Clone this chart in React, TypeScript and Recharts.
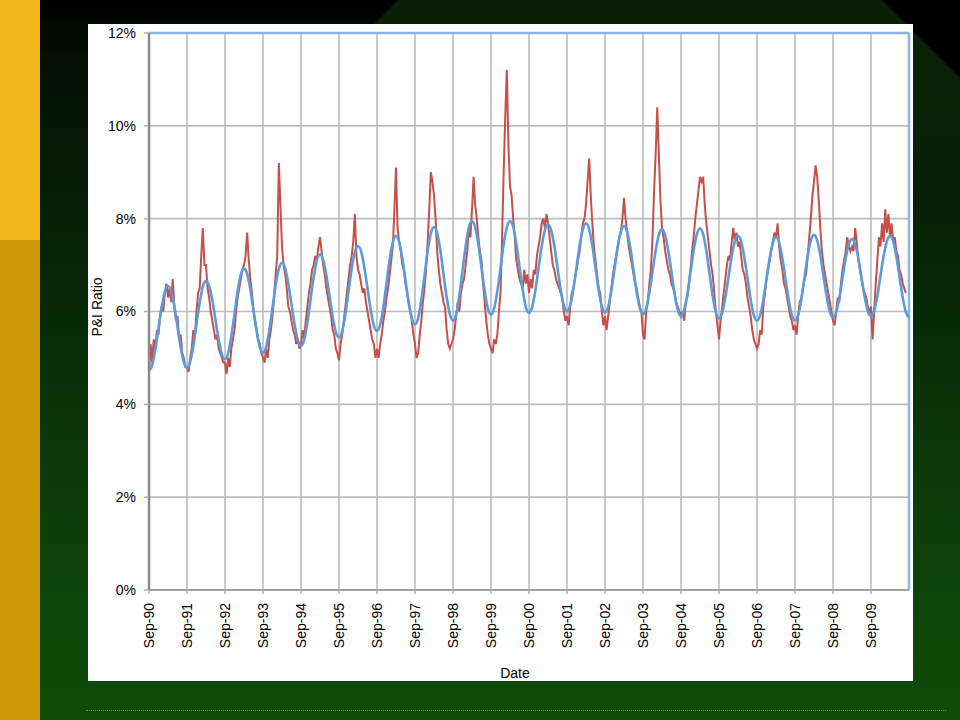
import React from 'react';
import { LineChart, Line, XAxis, YAxis, CartesianGrid, ReferenceLine } from 'recharts';

// Tick labels on the date axis (one per September, month index 0 = Sep-90)
const xTickLabels = [
  'Sep-90', 'Sep-91', 'Sep-92', 'Sep-93', 'Sep-94', 'Sep-95', 'Sep-96', 'Sep-97', 'Sep-98', 'Sep-99',
  'Sep-00', 'Sep-01', 'Sep-02', 'Sep-03', 'Sep-04', 'Sep-05', 'Sep-06', 'Sep-07', 'Sep-08', 'Sep-09',
];
const xTickMonths = [0, 12, 24, 36, 48, 60, 72, 84, 96, 108, 120, 132, 144, 156, 168, 180, 192, 204, 216, 228];
const yTicks = [0, 2, 4, 6, 8, 10, 12];

// Observed P&I ratio (%), read every half month starting Sep-90
const observedPI = [
  // Sep-90
  4.7, 5.3, 4.9, 5.4, 5.2, 5.6, 5.5, 5.9, 6.1, 6.0, 6.4, 6.6, 6.3, 6.5, 6.2, 6.7, 6.1, 5.8, 5.9, 5.4, 5.5, 5.1, 5.0, 4.8,
  // Sep-91
  4.8, 4.7, 5.0, 5.2, 5.6, 5.5, 6.0, 6.4, 6.5, 7.2, 7.8, 7.0, 7.0, 6.5, 6.3, 6.0, 5.8, 5.6, 5.4, 5.5, 5.2, 5.1, 5.0, 4.9,
  // Sep-92
  4.9, 4.65, 5.0, 4.8, 5.2, 5.4, 5.6, 6.0, 6.3, 6.5, 6.7, 6.9, 7.0, 7.2, 7.7, 7.1, 6.7, 6.4, 6.0, 5.8, 5.6, 5.4, 5.3, 5.1,
  // Sep-93
  5.0, 4.9, 5.2, 5.0, 5.4, 5.6, 5.9, 6.3, 6.8, 7.2, 9.2, 8.3, 7.4, 7.0, 6.8, 6.5, 6.1, 6.0, 5.8, 5.6, 5.5, 5.3, 5.4, 5.2,
  // Sep-94
  5.3, 5.6, 5.4, 5.8, 6.1, 6.4, 6.6, 6.9, 7.0, 7.2, 7.1, 7.4, 7.6, 7.3, 7.0, 6.8, 6.5, 6.3, 6.1, 5.9, 5.6, 5.5, 5.2, 5.1,
  // Sep-95
  4.95, 5.3, 5.5, 5.8, 6.1, 6.4, 6.7, 7.0, 7.2, 7.5, 8.1, 7.2, 6.9, 6.8, 6.6, 6.4, 6.5, 6.2, 6.0, 5.8, 5.6, 5.4, 5.3, 5.0,
  // Sep-96
  5.2, 5.0, 5.3, 5.5, 5.8, 6.0, 6.3, 6.5, 6.8, 7.1, 7.4, 8.2, 9.1, 7.8, 7.5, 7.3, 7.0, 6.9, 6.6, 6.4, 6.2, 6.0, 5.8, 5.5,
  // Sep-97
  5.3, 5.0, 5.1, 5.5, 5.8, 6.2, 6.5, 6.9, 7.5, 8.2, 9.0, 8.8, 8.5, 8.0, 7.3, 6.9, 6.6, 6.4, 6.2, 6.1, 5.6, 5.3, 5.2, 5.3,
  // Sep-98
  5.4, 5.6, 5.9, 6.2, 6.0, 6.4, 6.6, 6.7, 7.0, 7.3, 7.8, 7.6, 8.2, 8.9, 8.3, 8.0, 7.6, 7.3, 7.1, 6.6, 6.2, 5.8, 5.5, 5.3,
  // Sep-99
  5.2, 5.1, 5.4, 5.3, 5.5, 6.0, 6.4, 7.6, 9.0, 10.2, 11.2, 9.6, 8.7, 8.5, 8.0, 7.6, 7.1, 6.9, 6.7, 6.6, 6.5, 6.9, 6.6, 6.8,
  // Sep-00
  6.4, 6.7, 6.5, 6.9, 6.8, 7.2, 7.4, 7.6, 7.9, 8.0, 7.8, 8.1, 7.9, 7.6, 7.3, 7.0, 6.9, 6.7, 6.6, 6.5, 6.4, 6.3, 6.0, 5.8,
  // Sep-01
  5.9, 5.7, 6.1, 6.4, 6.5, 6.7, 6.9, 7.1, 7.3, 7.6, 7.9, 8.0, 8.3, 8.8, 9.3, 8.5, 7.9, 7.4, 7.1, 6.8, 6.5, 6.4, 6.0, 5.7,
  // Sep-02
  5.9, 5.6, 5.9, 6.2, 6.5, 6.8, 7.0, 7.2, 7.4, 7.6, 7.7, 8.0, 8.45, 8.0, 7.7, 7.4, 7.2, 7.0, 6.8, 6.6, 6.5, 6.3, 6.1, 6.0,
  // Sep-03
  5.5, 5.4, 6.0, 6.2, 6.6, 6.9, 7.6, 8.6, 9.4, 10.4, 9.4, 8.4, 7.8, 7.6, 7.3, 7.1, 6.9, 6.8, 6.6, 6.5, 6.4, 6.2, 6.1, 6.0,
  // Sep-04
  5.9, 6.0, 5.8, 6.2, 6.3, 6.6, 6.9, 7.3, 7.6, 8.0, 8.3, 8.6, 8.9, 8.8, 8.9, 8.3, 7.9, 7.6, 7.3, 7.0, 6.8, 6.4, 6.0, 5.7,
  // Sep-05
  5.4, 5.8, 6.1, 6.4, 6.7, 7.0, 7.2, 7.1, 7.5, 7.8, 7.5, 7.7, 7.4, 7.5, 7.2, 6.9, 6.8, 6.6, 6.3, 6.1, 5.9, 5.6, 5.4, 5.3,
  // Sep-06
  5.2, 5.3, 5.6, 5.5, 6.1, 6.4, 6.7, 6.9, 7.1, 7.3, 7.5, 7.7, 7.6, 7.9, 7.4, 7.1, 6.9, 6.6, 6.5, 6.3, 6.1, 5.9, 5.8, 5.6,
  // Sep-07
  5.7, 5.5, 5.9, 6.2, 6.3, 6.5, 6.7, 6.8, 7.2, 7.6, 8.0, 8.5, 8.8, 9.15, 8.9, 8.4, 7.8, 7.3, 7.0, 6.8, 6.6, 6.4, 6.2, 6.0,
  // Sep-08
  5.8, 5.7, 6.0, 6.3, 6.2, 6.6, 6.9, 7.1, 7.3, 7.6, 7.4, 7.3, 7.4, 7.3, 7.8, 7.5, 7.1, 6.9, 6.7, 6.5, 6.4, 6.3, 6.1, 6.0,
  // Sep-09
  6.1, 5.4, 6.0, 6.6, 7.1, 7.6, 7.4, 7.9, 7.5, 8.2, 7.7, 8.1, 7.6, 7.9, 7.5, 7.6, 7.3, 7.2, 6.9, 6.8, 6.6, 6.5, 6.4,
];

// Seasonal baseline (%), read once a month starting Sep-90
const seasonalBaseline = [
  4.72, 4.84, 5.18, 5.64, 6.09, 6.43, 6.55, 6.43, 6.11, 5.67, 5.23, 4.91,
  4.79, 4.92, 5.26, 5.73, 6.19, 6.54, 6.66, 6.55, 6.24, 5.82, 5.39, 5.08,
  4.97, 5.10, 5.46, 5.95, 6.44, 6.80, 6.93, 6.81, 6.48, 6.02, 5.57, 5.23,
  5.11, 5.24, 5.60, 6.08, 6.57, 6.92, 7.05, 6.93, 6.60, 6.16, 5.71, 5.38,
  5.26, 5.39, 5.75, 6.25, 6.74, 7.10, 7.23, 7.11, 6.78, 6.34, 5.89, 5.56,
  5.44, 5.57, 5.93, 6.43, 6.92, 7.28, 7.41, 7.29, 6.95, 6.50, 6.04, 5.70,
  5.58, 5.72, 6.09, 6.61, 7.12, 7.49, 7.63, 7.50, 7.15, 6.68, 6.20, 5.85,
  5.72, 5.86, 6.25, 6.77, 7.30, 7.68, 7.82, 7.69, 7.32, 6.81, 6.31, 5.94,
  5.80, 5.94, 6.34, 6.88, 7.41, 7.81, 7.95, 7.81, 7.45, 6.94, 6.44, 6.07,
  5.93, 6.07, 6.44, 6.94, 7.45, 7.81, 7.95, 7.82, 7.46, 6.96, 6.47, 6.10,
  5.97, 6.10, 6.45, 6.93, 7.40, 7.75, 7.88, 7.75, 7.41, 6.94, 6.47, 6.13,
  6.00, 6.13, 6.48, 6.95, 7.43, 7.77, 7.90, 7.77, 7.42, 6.94, 6.46, 6.11,
  5.98, 6.10, 6.45, 6.91, 7.38, 7.72, 7.84, 7.71, 7.37, 6.89, 6.42, 6.07,
  5.94, 6.06, 6.40, 6.86, 7.31, 7.65, 7.77, 7.64, 7.30, 6.84, 6.37, 6.03,
  5.90, 6.03, 6.37, 6.85, 7.32, 7.66, 7.79, 7.66, 7.31, 6.82, 6.34, 5.98,
  5.85, 5.97, 6.30, 6.74, 7.19, 7.51, 7.63, 7.51, 7.17, 6.72, 6.26, 5.92,
  5.80, 5.92, 6.25, 6.70, 7.15, 7.48, 7.60, 7.48, 7.15, 6.70, 6.25, 5.92,
  5.80, 5.92, 6.26, 6.73, 7.19, 7.53, 7.65, 7.53, 7.21, 6.76, 6.32, 5.99,
  5.87, 5.98, 6.29, 6.72, 7.14, 7.45, 7.56, 7.45, 7.15, 6.73, 6.32, 6.01,
  5.90, 6.02, 6.33, 6.77, 7.20, 7.51, 7.63, 7.51, 7.19, 6.75, 6.31, 5.99,
  5.87,
];

const rows: { t: number; observed: number | null; baseline: number | null }[] = [];
for (let i = 0; i <= 480; i++) {
  rows.push({
    t: i / 2,
    observed: i < observedPI.length ? observedPI[i] : null,
    baseline: i % 2 === 0 && i / 2 < seasonalBaseline.length ? seasonalBaseline[i / 2] : null,
  });
}

const FONT = '"Liberation Sans", Arial, sans-serif';

const DateTick = (props: any) => {
  const { x, y, payload } = props;
  const idx = xTickMonths.indexOf(payload.value);
  const label = idx >= 0 ? xTickLabels[idx] : '';
  return (
    <g transform={`translate(${x},${y})`}>
      <text
        x={0}
        y={0}
        dy={5}
        transform="rotate(-90)"
        textAnchor="end"
        fontFamily={FONT}
        fontSize={14}
        fill="#000"
      >
        {label}
      </text>
    </g>
  );
};

export default function App() {
  return (
    <div
      style={{
        position: 'absolute',
        left: 0,
        top: 0,
        width: 960,
        height: 720,
        overflow: 'hidden',
        background:
          'linear-gradient(180deg, #000000 0%, #031003 8%, #061d05 25%, #082b07 45%, #0b3a08 65%, #0e4509 85%, #104c08 100%)',
      }}
    >
      {/* dark green top band on the right, with diagonal left edge */}
      <div
        style={{
          position: 'absolute',
          left: 0,
          top: 0,
          width: 960,
          height: 260,
          background: 'linear-gradient(180deg, #0a1f06 0%, #0a2307 40%, rgba(8,43,7,0) 100%)',
          clipPath: 'polygon(398px 0px, 960px 0px, 960px 260px, 140px 260px)',
        }}
      />
      {/* black wedge top-right */}
      <div
        style={{
          position: 'absolute',
          left: 0,
          top: 0,
          width: 960,
          height: 720,
          background: '#000',
          clipPath: 'polygon(882px 0px, 960px 0px, 960px 78px)',
        }}
      />
      {/* gold side bars */}
      <div style={{ position: 'absolute', left: 0, top: 0, width: 40, height: 240, background: '#F1B619' }} />
      <div style={{ position: 'absolute', left: 0, top: 240, width: 40, height: 480, background: '#CC9A06' }} />
      {/* dotted ornament */}
      <div
        style={{
          position: 'absolute',
          left: 86,
          top: 710,
          width: 860,
          height: 0,
          borderTop: '1px dotted #9c8420',
        }}
      />
      {/* chart panel */}
      <div style={{ position: 'absolute', left: 88, top: 24, width: 825, height: 657, background: '#ffffff' }}>
        <LineChart width={825} height={657} data={rows} margin={{ top: 9, right: 4, left: 0, bottom: 0 }}>
          <CartesianGrid stroke="#bcbcbc" strokeWidth={1.6} />
          <XAxis
            dataKey="t"
            type="number"
            domain={[0, 240]}
            ticks={xTickMonths}
            interval={0}
            height={91}
            tick={<DateTick />}
            tickSize={4}
            tickMargin={9}
            axisLine={{ stroke: '#a0a0a0', strokeWidth: 2 }}
            tickLine={{ stroke: '#b0b0b0', strokeWidth: 1.5 }}
          />
          <YAxis
            type="number"
            domain={[0, 12]}
            ticks={yTicks}
            interval={0}
            width={61}
            tickFormatter={(v: number) => `${v}%`}
            tick={{ fontFamily: FONT, fontSize: 14, fill: '#000' }}
            tickSize={5}
            tickMargin={8}
            axisLine={{ stroke: '#8a8a8a', strokeWidth: 2.5 }}
            tickLine={{ stroke: '#b0b0b0', strokeWidth: 1.5 }}
          />
          <ReferenceLine y={12} stroke="#8db3e2" strokeWidth={2.5} />
          <ReferenceLine x={240} stroke="#8db3e2" strokeWidth={2.5} />
          <Line
            type="linear"
            dataKey="observed"
            stroke="#c4504c"
            strokeWidth={2}
            dot={false}
            activeDot={false}
            connectNulls
            isAnimationActive={false}
          />
          <Line
            type="monotone"
            dataKey="baseline"
            stroke="#5b9bd8"
            strokeWidth={2.6}
            dot={false}
            activeDot={false}
            connectNulls
            isAnimationActive={false}
          />
        </LineChart>
      </div>
      {/* axis titles */}
      <div
        style={{
          position: 'absolute',
          left: 97,
          top: 307,
          transform: 'translate(-50%, -50%) rotate(-90deg)',
          fontFamily: FONT,
          fontSize: 14,
          color: '#000',
          whiteSpace: 'nowrap',
          lineHeight: '16px',
        }}
      >
        P&amp;I Ratio
      </div>
      <div
        style={{
          position: 'absolute',
          left: 515,
          top: 673,
          transform: 'translate(-50%, -50%)',
          fontFamily: FONT,
          fontSize: 14,
          color: '#000',
          whiteSpace: 'nowrap',
          lineHeight: '16px',
        }}
      >
        Date
      </div>
    </div>
  );
}
